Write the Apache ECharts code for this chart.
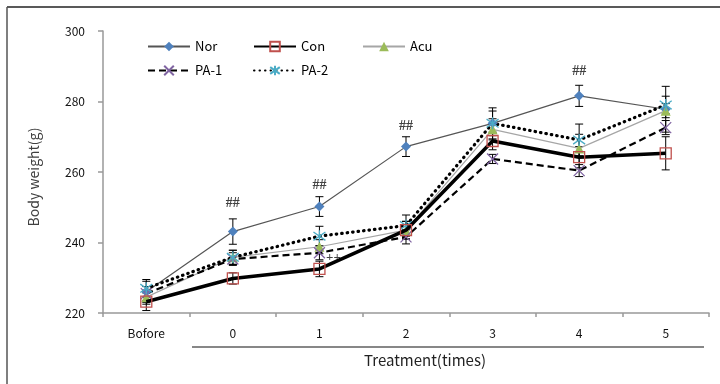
<!DOCTYPE html>
<html><head><meta charset="utf-8">
<script src="https://cdn.jsdelivr.net/npm/echarts@6/dist/echarts.min.js"></script>
<style>html,body{margin:0;padding:0;background:#fff}#c{width:720px;height:384px}</style>
</head><body><div id="c"></div>
<script>
const categories = ['Bofore', '0', '1', '2', '3', '4', '5'];
const yTicks = [220, 240, 260, 280, 300];
const nor = [226, 243.1, 250.2, 267.2, 273.8, 281.6, 277.8];
const con = [223.2, 229.8, 232.5, 243.5, 268.8, 264.2, 265.3];
const acu = [224.5, 235.8, 238.8, 243.5, 272.1, 266.7, 277.4];
const pa1 = [225.5, 235.3, 237.1, 241.6, 263.7, 260.4, 272.6];
const pa2 = [227, 235.8, 241.8, 244.8, 273.8, 269.1, 279];
const norErr = [3, 3.6, 2.8, 2.8, 4.4, 3, 6.5];
const conErr = [2.5, 1.6, 2.2, 2.5, 2.5, 3, 4.7];
const acuErr = [2, 2, 2, 2.5, 3, 4, 2];
const pa1Err = [2, 1.8, 2, 2, 1.3, 1.7, 2];
const pa2Err = [2.5, 2, 2.8, 3, 3.5, 4.5, 2.5];
const hashMarks = [['0', 251], ['1', 256.3], ['2', 273], ['4', 288.4]];
const plusMarks = [['1', 235.6]];

const FONT = '"Noto Sans CJK KR", "Noto Sans", sans-serif';
const chart = echarts.init(document.getElementById('c'), null, {renderer: 'canvas'});

function errData(vals, errs) {
  return vals.map((v, i) => [i, v - errs[i], v + errs[i]]);
}
function errSeries(vals, errs) {
  return {
    type: 'custom', silent: true, z: 3,
    data: errData(vals, errs),
    renderItem: function (params, api) {
      const lo = api.coord([api.value(0), api.value(1)]);
      const hi = api.coord([api.value(0), api.value(2)]);
      const w = 4;
      const st = {stroke: '#000', lineWidth: 1};
      return {type: 'group', children: [
        {type: 'line', shape: {x1: lo[0], y1: lo[1], x2: hi[0], y2: hi[1]}, style: st},
        {type: 'line', shape: {x1: lo[0] - w, y1: lo[1], x2: lo[0] + w, y2: lo[1]}, style: st},
        {type: 'line', shape: {x1: hi[0] - w, y1: hi[1], x2: hi[0] + w, y2: hi[1]}, style: st}
      ]};
    }
  };
}
const xPath = 'path://M0,0L10,10M10,0L0,10';
const starPath = 'path://M0,1.5L10,8.5M10,1.5L0,8.5M5,0L5,10';

const legendBase = {itemWidth: 42, itemHeight: 12, padding: 0, textStyle: {fontFamily: FONT, fontSize: 13, color: '#000'}};

const option = {
  animation: false,
  backgroundColor: '#fff',
  grid: {left: 103, right: 11, top: 31, bottom: 71},
  legend: [
    Object.assign({data: ['Nor'], left: 147, top: 40}, legendBase),
    Object.assign({data: ['Con'], left: 253, top: 40}, legendBase),
    Object.assign({data: ['Acu'], left: 362, top: 40}, legendBase),
    Object.assign({data: ['PA-1'], left: 147, top: 64}, legendBase),
    Object.assign({data: ['PA-2'], left: 253, top: 64}, legendBase)
  ],
  xAxis: {
    type: 'category', data: categories, boundaryGap: true,
    axisLine: {lineStyle: {color: '#999', width: 1.5}},
    axisTick: {show: true, length: 4, lineStyle: {color: '#999', width: 1.5}},
    axisLabel: {fontFamily: FONT, fontSize: 12, color: '#111', margin: 14}
  },
  yAxis: {
    type: 'value', min: yTicks[0], max: yTicks[yTicks.length - 1], interval: 20,
    name: 'Body weight(g)', nameLocation: 'middle', nameGap: 62,
    nameTextStyle: {fontFamily: FONT, fontSize: 14, color: '#404040', padding: [0, 0, 0, -10]},
    axisLine: {show: true, lineStyle: {color: '#999', width: 1.5}},
    axisTick: {show: true, length: 5, lineStyle: {color: '#999', width: 1.5}},
    splitLine: {show: false},
    axisLabel: {fontFamily: FONT, fontSize: 12, color: '#111', margin: 18}
  },
  graphic: [
    {type: 'line', shape: {x1: 7, y1: 7, x2: 720, y2: 7}, style: {stroke: '#222', lineWidth: 1.5}},
    {type: 'line', shape: {x1: 7, y1: 7, x2: 7, y2: 384}, style: {stroke: '#555', lineWidth: 1.5}},
    {type: 'line', shape: {x1: 192, y1: 347, x2: 704, y2: 347}, style: {stroke: '#111', lineWidth: 1.2}},
    {type: 'text', x: 425, y: 360, style: {text: 'Treatment(times)', fontFamily: FONT, fontSize: 15, fill: '#222', align: 'center', verticalAlign: 'middle'}}
  ],
  series: [
    errSeries(nor, norErr), errSeries(con, conErr), errSeries(acu, acuErr), errSeries(pa1, pa1Err), errSeries(pa2, pa2Err),
    {name: 'Nor', type: 'line', data: nor, z: 4, symbol: 'diamond', symbolSize: 10,
      lineStyle: {color: '#555', width: 1.2}, itemStyle: {color: '#4F81BD'}},
    {name: 'Con', type: 'line', data: con, z: 5, symbol: 'rect', symbolSize: 11,
      lineStyle: {color: '#000', width: 3.5}, itemStyle: {color: 'rgba(255,255,255,0)', borderColor: '#C0504D', borderWidth: 1.3}},
    {name: 'Acu', type: 'line', data: acu, z: 4, symbol: 'triangle', symbolSize: 10,
      lineStyle: {color: '#A6A6A6', width: 1.2}, itemStyle: {color: '#9BBB59'}},
    {name: 'PA-1', type: 'line', data: pa1, z: 4, symbol: xPath, symbolSize: 11,
      lineStyle: {color: '#000', width: 2.2, type: [7, 4]}, itemStyle: {color: 'rgba(0,0,0,0)', borderColor: '#8064A2', borderWidth: 1.3}},
    {name: 'PA-2', type: 'line', data: pa2, z: 4, symbol: starPath, symbolSize: 12,
      lineStyle: {color: '#000', width: 3.2, type: [0.5, 5], cap: 'round'}, itemStyle: {color: 'rgba(0,0,0,0)', borderColor: '#4BACC6', borderWidth: 1.3}},
    {type: 'scatter', silent: true, data: hashMarks, symbolSize: 1, itemStyle: {color: 'rgba(0,0,0,0)'},
      label: {show: true, position: 'inside', formatter: '##', fontFamily: 'Liberation Serif', fontWeight: 'bold', fontSize: 14, color: '#111'}},
    {type: 'scatter', silent: true, data: plusMarks, symbolSize: 1, itemStyle: {color: 'rgba(0,0,0,0)'},
      label: {show: true, position: 'inside', offset: [14, 0], formatter: '++', fontFamily: 'Liberation Serif', fontWeight: 'bold', fontSize: 13, color: '#111'}}
  ]
};
chart.setOption(option);
</script></body></html>
